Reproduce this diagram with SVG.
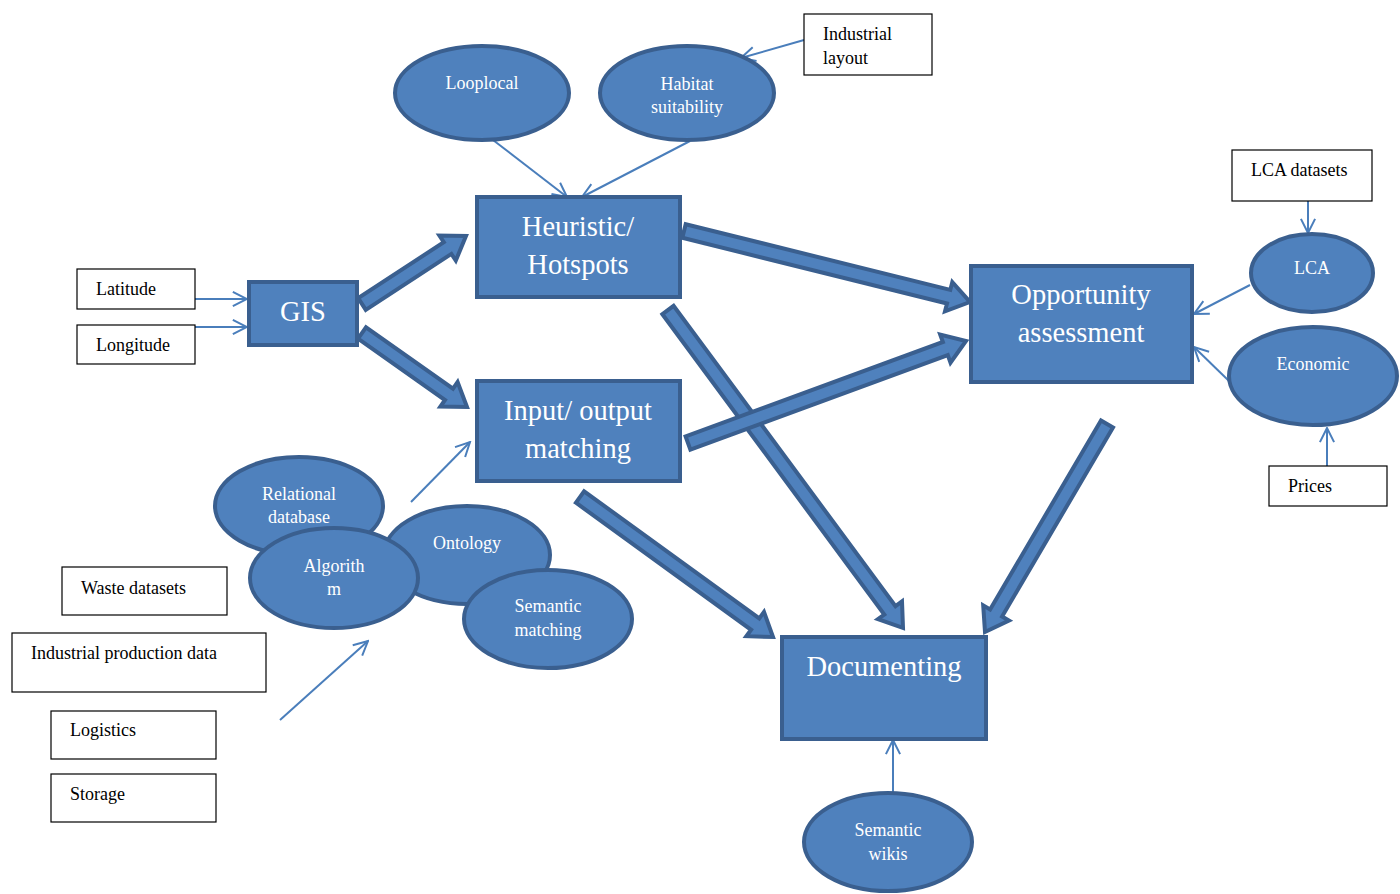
<svg xmlns="http://www.w3.org/2000/svg" width="1400" height="894" viewBox="0 0 1400 894">
<defs>
<style>
.box{fill:#4F81BD;stroke:#3A5F8F;stroke-width:4}
.ell{fill:#4F81BD;stroke:#3A5F8F;stroke-width:4}
.blk{fill:#4F81BD;stroke:#3A5F8F;stroke-width:4;stroke-linejoin:miter}
.wb{fill:#fff;stroke:#000;stroke-width:1.2}
.thin{stroke:#4A7EBB;stroke-width:2;fill:none;marker-end:url(#open)}
.tb{font-family:"Liberation Serif",serif;font-size:28.5px;fill:#fff;text-anchor:middle}
.te{font-family:"Liberation Serif",serif;font-size:18px;fill:#fff;text-anchor:middle}
.tk{font-family:"Liberation Serif",serif;font-size:18px;fill:#000}
</style>
<marker id="open" viewBox="0 0 12 12" refX="11" refY="6" markerWidth="17" markerHeight="17" markerUnits="userSpaceOnUse" orient="auto">
<path d="M1,1 L11,6 L1,11" fill="none" stroke="#4A7EBB" stroke-width="1.4"/>
</marker>
</defs>
<rect width="1400" height="894" fill="#fff"/>

<g id="connectors">
<polygon class="blk" points="365.8,309.9 451.4,253.9 455.8,260.6 466,236 439.4,235.5 443.8,242.2 358.2,298.1"/>
<polygon class="blk" points="358.0,338.7 445.0,400.0 440.4,406.6 467,407 457.6,382.1 453.0,388.6 366.0,327.3"/>
<polygon class="blk" points="682.3,237.8 947.0,303.5 945.0,311.3 970,302 952.3,282.1 950.3,289.9 685.7,224.2"/>
<polygon class="blk" points="662.4,314.2 884.3,614.5 877.9,619.2 903,628 902.0,601.4 895.5,606.1 673.6,305.8"/>
<polygon class="blk" points="690.4,449.6 947.8,355.1 950.5,362.7 966,341 940.2,334.5 942.9,342.0 685.6,436.4"/>
<polygon class="blk" points="575.9,502.7 751.1,629.8 746.4,636.2 773,637 764.0,611.9 759.3,618.4 584.1,491.3"/>
<polygon class="blk" points="1101.0,420.5 990.1,609.5 983.2,605.4 985,632 1009.0,620.6 1002.1,616.5 1113.0,427.5"/>
<line class="thin" x1="195" y1="299" x2="247" y2="299"/>
<line class="thin" x1="195" y1="327" x2="247" y2="327"/>
<line class="thin" x1="493" y1="140" x2="567" y2="197"/>
<line class="thin" x1="690" y1="141" x2="582" y2="197"/>
<line class="thin" x1="804" y1="40" x2="741" y2="58"/>
<line class="thin" x1="1308" y1="201" x2="1308" y2="233"/>
<line class="thin" x1="1250" y1="285" x2="1194" y2="314"/>
<line class="thin" x1="1229" y1="381" x2="1194" y2="347"/>
<line class="thin" x1="1327" y1="466" x2="1327" y2="428"/>
<line class="thin" x1="411" y1="502" x2="470" y2="442"/>
<line class="thin" x1="280" y1="720" x2="368" y2="641"/>
<line class="thin" x1="893" y1="792" x2="893" y2="740"/>
</g>

<g id="gis"><rect class="box" x="249" y="282" width="108" height="63"/><text class="tb" x="303" y="321">GIS</text></g>
<g id="heuristic"><rect class="box" x="477" y="197" width="203" height="100"/><text class="tb" x="578" y="236">Heuristic/</text><text class="tb" x="578" y="274">Hotspots</text></g>
<g id="inputoutput"><rect class="box" x="477" y="381" width="203" height="100"/><text class="tb" x="578" y="420">Input/ output</text><text class="tb" x="578" y="458">matching</text></g>
<g id="opportunity"><rect class="box" x="971" y="266" width="221" height="116"/><text class="tb" x="1081" y="304">Opportunity</text><text class="tb" x="1081" y="342">assessment</text></g>
<g id="documenting"><rect class="box" x="782" y="637" width="204" height="102"/><text class="tb" x="884" y="676">Documenting</text></g>

<g id="looplocal"><ellipse class="ell" cx="482" cy="93" rx="87" ry="47"/><text class="te" x="482" y="89">Looplocal</text></g>
<g id="habitat"><ellipse class="ell" cx="687" cy="93" rx="87" ry="47"/><text class="te" x="687" y="90">Habitat</text><text class="te" x="687" y="113">suitability</text></g>
<g id="lca"><ellipse class="ell" cx="1312" cy="273" rx="61" ry="39"/><text class="te" x="1312" y="274">LCA</text></g>
<g id="economic"><ellipse class="ell" cx="1313" cy="376" rx="84" ry="49"/><text class="te" x="1313" y="370">Economic</text></g>
<g id="relational"><ellipse class="ell" cx="299" cy="506" rx="84" ry="49"/><text class="te" x="299" y="500">Relational</text><text class="te" x="299" y="523">database</text></g>
<g id="ontology"><ellipse class="ell" cx="467" cy="555" rx="83" ry="49"/><text class="te" x="467" y="549">Ontology</text></g>
<g id="algorithm"><ellipse class="ell" cx="334" cy="578" rx="84" ry="50"/><text class="te" x="334" y="572">Algorith</text><text class="te" x="334" y="595">m</text></g>
<g id="semanticmatching"><ellipse class="ell" cx="548" cy="619" rx="84" ry="49"/><text class="te" x="548" y="612">Semantic</text><text class="te" x="548" y="636">matching</text></g>
<g id="semanticwikis"><ellipse class="ell" cx="888" cy="842" rx="84" ry="49"/><text class="te" x="888" y="836">Semantic</text><text class="te" x="888" y="860">wikis</text></g>

<g id="industriallayout"><rect class="wb" x="804" y="14" width="128" height="61"/><text class="tk" x="823" y="40">Industrial</text><text class="tk" x="823" y="64">layout</text></g>
<g id="lcadatasets"><rect class="wb" x="1232" y="150" width="140" height="51"/><text class="tk" x="1251" y="176">LCA datasets</text></g>
<g id="prices"><rect class="wb" x="1269" y="466" width="118" height="40"/><text class="tk" x="1288" y="492">Prices</text></g>
<g id="latitude"><rect class="wb" x="77" y="269" width="118" height="40"/><text class="tk" x="96" y="295">Latitude</text></g>
<g id="longitude"><rect class="wb" x="77" y="325" width="118" height="39"/><text class="tk" x="96" y="351">Longitude</text></g>
<g id="waste"><rect class="wb" x="62" y="567" width="165" height="48"/><text class="tk" x="81" y="594">Waste datasets</text></g>
<g id="industrialproduction"><rect class="wb" x="12" y="633" width="254" height="59"/><text class="tk" x="31" y="659">Industrial production data</text></g>
<g id="logistics"><rect class="wb" x="51" y="711" width="165" height="48"/><text class="tk" x="70" y="736">Logistics</text></g>
<g id="storage"><rect class="wb" x="51" y="774" width="165" height="48"/><text class="tk" x="70" y="800">Storage</text></g>
</svg>
